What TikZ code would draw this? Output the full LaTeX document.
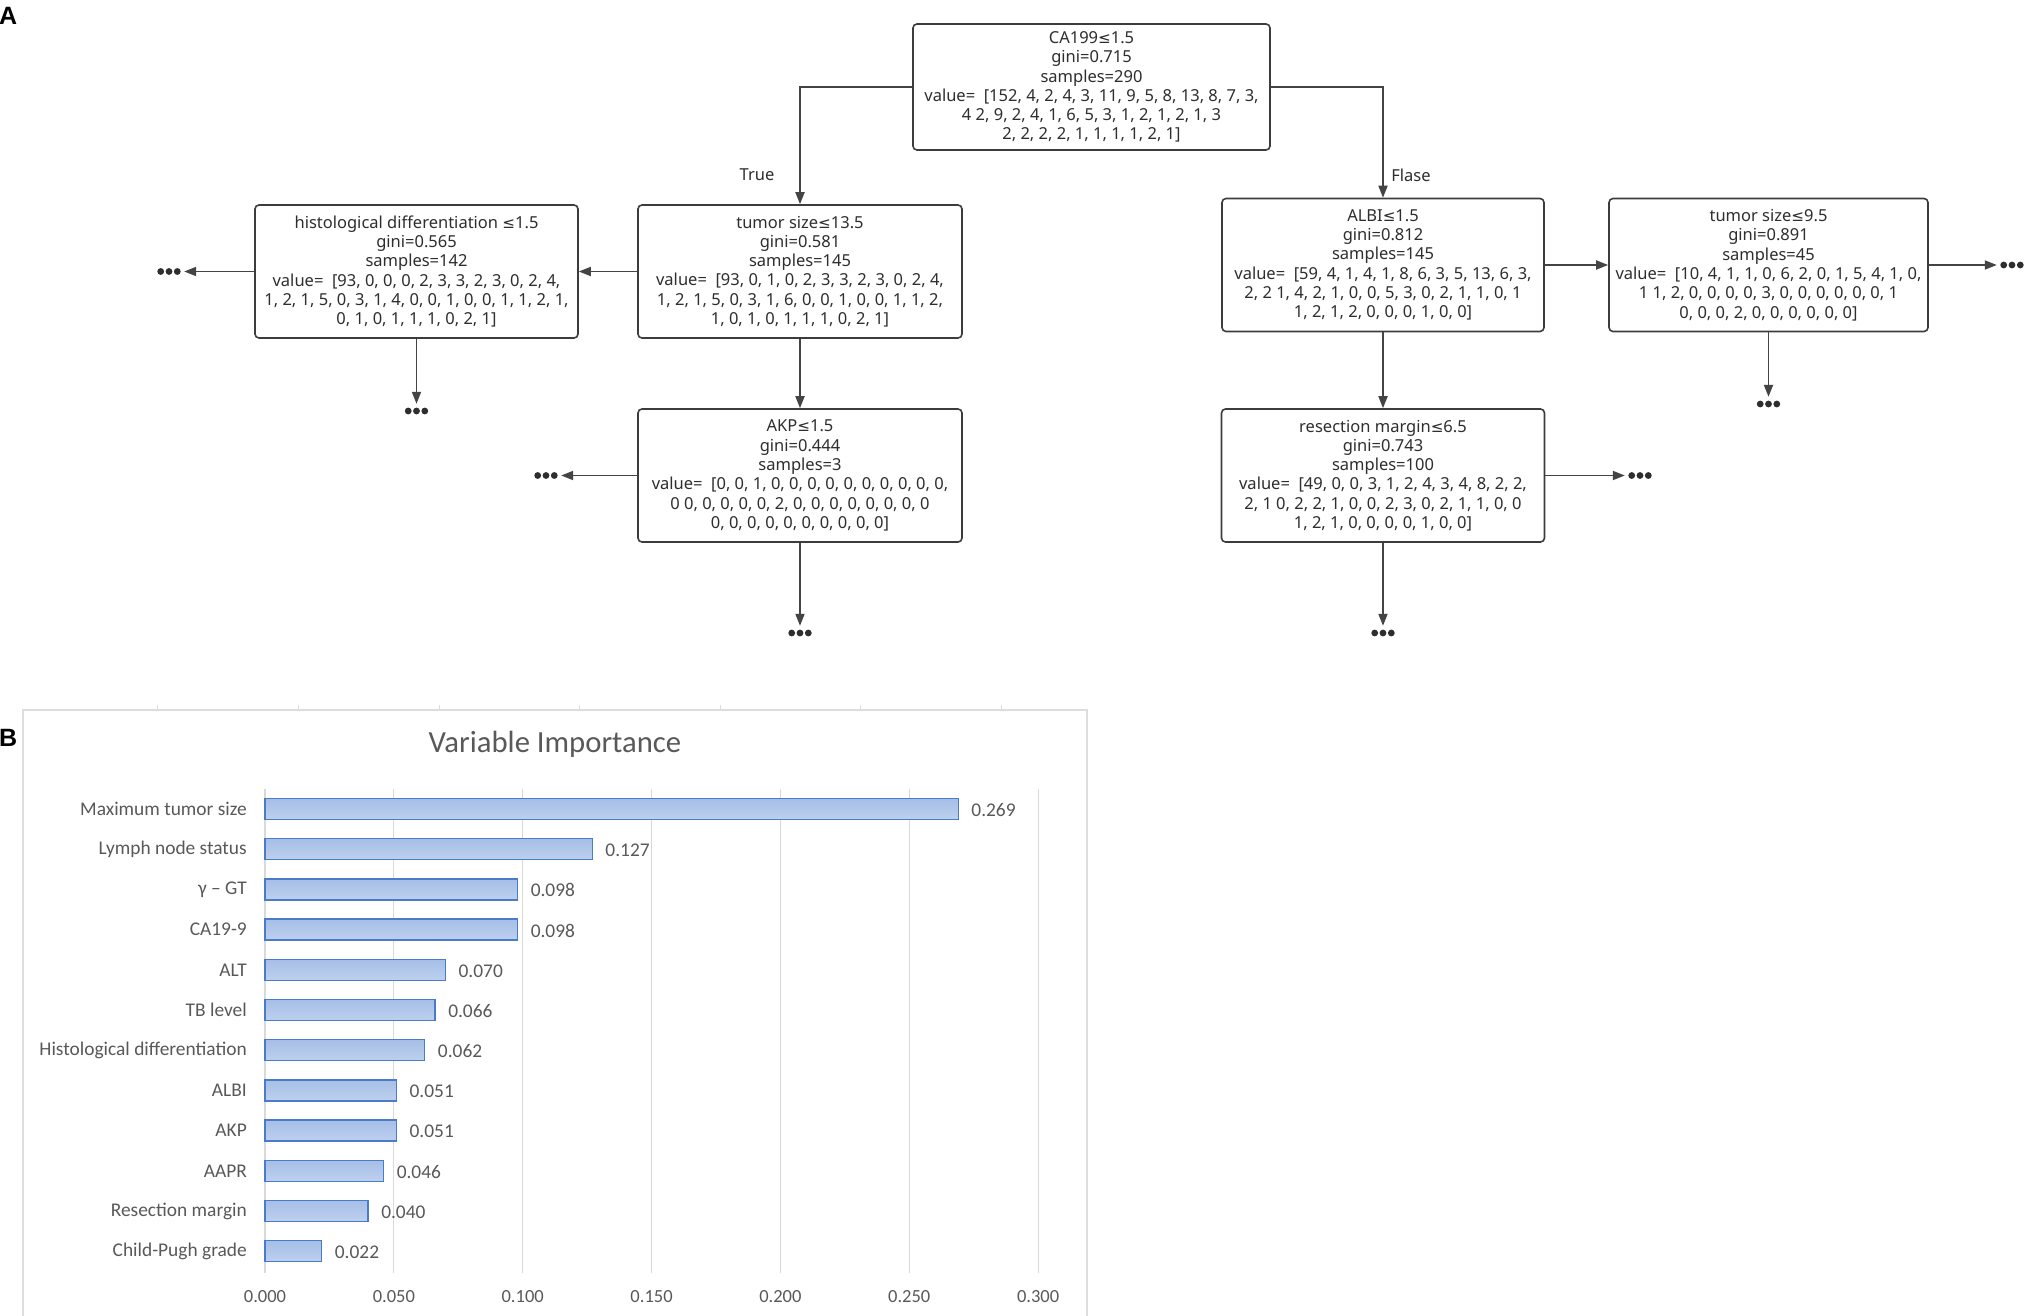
\documentclass[tikz,border=0pt]{standalone}
\usepackage{fontspec}
\setmainfont{Noto Sans}
\newfontfamily\treefont{Noto Sans}
\newfontfamily\symfont[Scale=0.92]{DejaVu Sans}
\newfontfamily\chartfont{Carlito}
\newfontfamily\panelfont{Liberation Sans}
\newcommand{\lesym}{{\symfont ≤}}
\usetikzlibrary{arrows.meta}
\definecolor{boxline}{HTML}{3C3C3C}
\definecolor{treetext}{HTML}{2E2E2E}
\definecolor{conncol}{HTML}{444444}
\definecolor{chartgrey}{HTML}{595959}
\definecolor{gridgrey}{HTML}{D9D9D9}
\definecolor{framegrey}{HTML}{DDDDDD}
\definecolor{barline}{HTML}{4A7BC8}
\definecolor{bartop}{HTML}{A6BFE7}
\definecolor{barbot}{HTML}{BDD0EE}
\tikzset{
  treebox/.style={draw=boxline, line width=1.6pt, rounded corners=4pt, fill=white,
    minimum height=133pt, inner sep=0pt, align=center,
    font={\treefont\fontsize{16.5}{19.3}\selectfont}, text=treetext},
  conn/.style={draw=conncol, line width=1.8pt, -{Triangle[length=12pt,width=9pt]}},
  branchlabel/.style={font={\treefont\fontsize{16.5}{19.3}\selectfont}, text=treetext, inner sep=0pt},
  dotsnode/.style={minimum width=30pt, minimum height=14pt, inner sep=0pt,
    path picture={\fill[treetext] ([xshift=-8.3pt]path picture bounding box.center) circle[radius=3.4pt]
      (path picture bounding box.center) circle[radius=3.4pt]
      ([xshift=8.3pt]path picture bounding box.center) circle[radius=3.4pt];}},
  panellabel/.style={font={\panelfont\bfseries\fontsize{25}{28}\selectfont}, inner sep=0pt, anchor=west},
  catlabel/.style={font={\chartfont\fontsize{19.4}{22}\selectfont}, text=chartgrey, inner sep=0pt, anchor=east},
  vallabel/.style={font={\chartfont\fontsize{19.4}{22}\selectfont}, text=chartgrey, inner sep=0pt, anchor=west},
  ticklabel/.style={font={\chartfont\fontsize{18.5}{22}\selectfont}, text=chartgrey, inner sep=0pt},
  titlelabel/.style={font={\chartfont\fontsize{30.7}{34}\selectfont}, text=chartgrey, inner sep=0pt},
  barstyle/.style={top color=bartop, bottom color=barbot, draw=barline, line width=1.3pt},
  gridline/.style={draw=gridgrey, line width=1.2pt},
  framestyle/.style={draw=framegrey, line width=1.2pt}
}
\begin{document}
\begin{tikzpicture}[x=1pt,y=-1pt]
\useasboundingbox[fill=white] (0,0) rectangle (2030,1316);

% ---------------- Panel A: decision tree ----------------
\node[panellabel] (labA) at (-1,15.5) {A};

\node[treebox, minimum width=357pt, minimum height=126pt] (root) at (1091.5,87) {CA199\lesym1.5\\gini=0.715\\samples=290\\value=\ \ [152, 4, 2, 4, 3, 11, 9, 5, 8, 13, 8, 7, 3,\\4 2, 9, 2, 4, 1, 6, 5, 3, 1, 2, 1, 2, 1, 3\\2, 2, 2, 2, 1, 1, 1, 1, 2, 1]};

\node[treebox, minimum width=324pt] (t1) at (800,271.5) {tumor size\lesym13.5\\gini=0.581\\samples=145\\value=\ \ [93, 0, 1, 0, 2, 3, 3, 2, 3, 0, 2, 4,\\1, 2, 1, 5, 0, 3, 1, 6, 0, 0, 1, 0, 0, 1, 1, 2,\\1, 0, 1, 0, 1, 1, 1, 0, 2, 1]};

\node[treebox, minimum width=323pt] (hist) at (416.5,271.5) {histological differentiation \lesym1.5\\gini=0.565\\samples=142\\value=\ \ [93, 0, 0, 0, 2, 3, 3, 2, 3, 0, 2, 4,\\1, 2, 1, 5, 0, 3, 1, 4, 0, 0, 1, 0, 0, 1, 1, 2, 1,\\0, 1, 0, 1, 1, 1, 0, 2, 1]};

\node[treebox, minimum width=324pt] (akp) at (800,475.5) {AKP\lesym1.5\\gini=0.444\\samples=3\\value=\ \ [0, 0, 1, 0, 0, 0, 0, 0, 0, 0, 0, 0, 0,\\0 0, 0, 0, 0, 0, 2, 0, 0, 0, 0, 0, 0, 0, 0\\0, 0, 0, 0, 0, 0, 0, 0, 0, 0]};

\node[treebox, minimum width=322pt] (albi) at (1383,265) {ALBI\lesym1.5\\gini=0.812\\samples=145\\value=\ \ [59, 4, 1, 4, 1, 8, 6, 3, 5, 13, 6, 3,\\2, 2 1, 4, 2, 1, 0, 0, 5, 3, 0, 2, 1, 1, 0, 1\\1, 2, 1, 2, 0, 0, 0, 1, 0, 0]};

\node[treebox, minimum width=319pt] (t95) at (1768.5,265) {tumor size\lesym9.5\\gini=0.891\\samples=45\\value=\ \ [10, 4, 1, 1, 0, 6, 2, 0, 1, 5, 4, 1, 0,\\1 1, 2, 0, 0, 0, 0, 3, 0, 0, 0, 0, 0, 0, 1\\0, 0, 0, 2, 0, 0, 0, 0, 0, 0]};

\node[treebox, minimum width=323pt] (res) at (1383,475.5) {resection margin\lesym6.5\\gini=0.743\\samples=100\\value=\ \ [49, 0, 0, 3, 1, 2, 4, 3, 4, 8, 2, 2,\\2, 1 0, 2, 2, 1, 0, 0, 2, 3, 0, 2, 1, 1, 0, 0\\1, 2, 1, 0, 0, 0, 0, 1, 0, 0]};

% continuation dots
\node[dotsnode] (dh1) at (169,271.5) {};
\node[dotsnode] (dh2) at (416.5,411) {};
\node[dotsnode] (da1) at (546,475.5) {};
\node[dotsnode] (da2) at (800,633) {};
\node[dotsnode] (dt1) at (2012,265) {};
\node[dotsnode] (dt2) at (1768.5,404) {};
\node[dotsnode] (dr1) at (1640,475.5) {};
\node[dotsnode] (dr2) at (1383,633) {};

% branch labels
\node[branchlabel] (ltrue) at (757,175) {True};
\node[branchlabel] (lfalse) at (1411,175) {Flase};

% connectors
\draw[conn] (root.west) -| (t1.north);
\draw[conn] (root.east) -| (albi.north);
\draw[conn] (t1.west) -- (hist.east);
\draw[conn] (hist.west) -- (dh1.east);
\draw[conn] (hist.south) -- (dh2.north);
\draw[conn] (t1.south) -- (akp.north);
\draw[conn] (akp.west) -- (da1.east);
\draw[conn] (akp.south) -- (da2.north);
\draw[conn] (albi.east) -- (t95.west);
\draw[conn] (t95.east) -- (dt1.west);
\draw[conn] (t95.south) -- (dt2.north);
\draw[conn] (albi.south) -- (res.north);
\draw[conn] (res.east) -- (dr1.west);
\draw[conn] (res.south) -- (dr2.north);

% ---------------- Panel B: variable importance ----------------
\node[panellabel] (labB) at (-1,738) {B};

% frame (bottom cut off)
\draw[framestyle] (23,1316) -- (23,710) -- (1087,710) -- (1087,1316);
\foreach \tx in {157,298,439,579,720,860,1001}{
  \draw[framestyle, line width=1pt] (\tx,705) -- (\tx,710);
}

\node[titlelabel] (title) at (555,744) {Variable Importance};

% gridlines and tick labels
\foreach \k/\t in {0/0.000,1/0.050,2/0.100,3/0.150,4/0.200,5/0.250,6/0.300}{
  \pgfmathsetmacro{\gx}{265+128.85*\k}
  \draw[gridline] (\gx,789) -- (\gx,1273);
  \node[ticklabel] (tick\k) at (\gx,1297) {\t};
}

% bars
\foreach \lab/\val [count=\i from 0] in {Maximum tumor size/0.269, Lymph node status/0.127, γ – GT/0.098, CA19-9/0.098, ALT/0.070, TB level/0.066, Histological differentiation/0.062, ALBI/0.051, AKP/0.051, AAPR/0.046, Resection margin/0.040, Child-Pugh grade/0.022}{
  \pgfmathsetmacro{\yy}{809+40.2*\i}
  \pgfmathsetmacro{\xe}{265+\val*2577}
  \path[barstyle] (265,\yy-10.5) rectangle (\xe,\yy+10.5);
  \node[catlabel] (cat\i) at (247,\yy) {\lab};
  \node[vallabel] (val\i) at (\xe+13,\yy+1) {\val};
}
\end{tikzpicture}
\end{document}
